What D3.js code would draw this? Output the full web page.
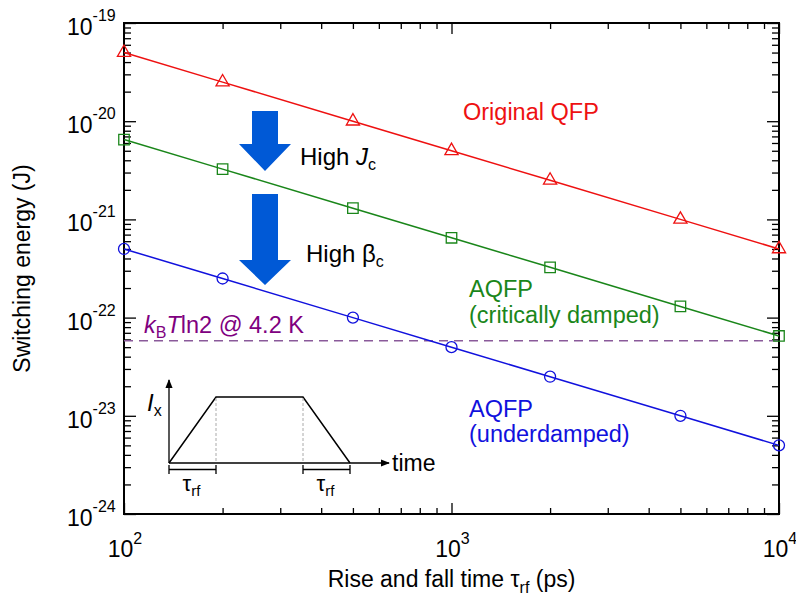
<!DOCTYPE html>
<html>
<head>
<meta charset="utf-8">
<script src="https://cdn.jsdelivr.net/npm/d3@7"></script>
<style>
  body { margin: 0; background: #fff; }
  text { font-family: "Liberation Sans", Arial, sans-serif; }
</style>
</head>
<body>
<svg id="svg"></svg>
<script>
const times = [100, 200, 500, 1000, 2000, 5000, 10000]
const originalQFP = [5e-20, 2.5e-20, 1e-20, 5e-21, 2.5e-21, 1e-21, 5e-22]
const aqfpCritical = [6.5e-21, 3.25e-21, 1.3e-21, 6.5e-22, 3.25e-22, 1.3e-22, 6.5e-23]
const aqfpUnder = [5e-22, 2.5e-22, 1e-22, 5e-23, 2.5e-23, 1e-23, 5e-24]
const thermalLimit = 5.8e-23
const xTickExp = [2, 3, 4]
const yTickExp = [-19, -20, -21, -22, -23, -24]

const width = 796, height = 598
const padding = { top: 23, right: 17, bottom: 84, left: 124 }

const svg = d3.select('#svg')
  .attr('width', width)
  .attr('height', height)

const x = d3.scaleLog().domain([100, 10000]).range([padding.left, width - padding.right])
const y = d3.scaleLog().domain([1e-24, 1e-19]).range([height - padding.bottom, padding.top])

// minor tick values
const xMinor = []
for (let e = 2; e < 4; e++) for (let m = 2; m < 10; m++) xMinor.push(m * Math.pow(10, e))
const yMinor = []
for (let e = -24; e < -19; e++) for (let m = 2; m < 10; m++) yMinor.push(m * Math.pow(10, e))
const xMajor = xTickExp.map(e => Math.pow(10, e))
const yMajor = yTickExp.map(e => Math.pow(10, e))

function addAxis(fn, scale, vals, size, tx, ty) {
  const g = svg.append('g')
    .attr('transform', 'translate(' + tx + ',' + ty + ')')
    .call(fn(scale).tickValues(vals).tickSize(-size).tickFormat(''))
  g.select('.domain').remove()
  g.selectAll('line').attr('stroke', '#000').attr('stroke-width', 1.3)
}
const x0 = padding.left, x1 = width - padding.right
const y0 = height - padding.bottom, y1 = padding.top
addAxis(d3.axisBottom, x, xMajor, 11, 0, y0)
addAxis(d3.axisBottom, x, xMinor, 6, 0, y0)
addAxis(d3.axisTop, x, xMajor, 11, 0, y1)
addAxis(d3.axisTop, x, xMinor, 6, 0, y1)
addAxis(d3.axisLeft, y, yMajor, 12, x0, 0)
addAxis(d3.axisLeft, y, yMinor, 7, x0, 0)
addAxis(d3.axisRight, y, yMajor, 12, x1, 0)
addAxis(d3.axisRight, y, yMinor, 7, x1, 0)

svg.append('rect')
  .attr('x', x0).attr('y', y1)
  .attr('width', x1 - x0).attr('height', y0 - y1)
  .attr('fill', 'none').attr('stroke', '#000').attr('stroke-width', 2)

// tick labels
xTickExp.forEach(e => {
  const t = svg.append('text')
    .attr('x', x(Math.pow(10, e)) + 1).attr('y', 557)
    .attr('text-anchor', 'middle')
    .style('font-size', '23px')
  t.append('tspan').text('10')
  t.append('tspan').attr('dy', -13).style('font-size', '16px').text(e)
})
yTickExp.forEach(e => {
  const t = svg.append('text')
    .attr('x', 67).attr('y', y(Math.pow(10, e)) + 12)
    .style('font-size', '23px')
  t.append('tspan').text('10')
  t.append('tspan').attr('dy', -14).style('font-size', '16px').text(e)
})

// axis labels
const xl = svg.append('text')
  .attr('x', (x0 + x1) / 2).attr('y', 587)
  .attr('text-anchor', 'middle')
  .style('font-size', '23px')
xl.append('tspan').text('Rise and fall time \u03c4')
xl.append('tspan').attr('dy', 6).style('font-size', '16px').text('rf')
xl.append('tspan').attr('dy', -6).text(' (ps)')

svg.append('text')
  .attr('transform', 'translate(30,' + ((y0 + y1) / 2) + ') rotate(-90)')
  .attr('text-anchor', 'middle')
  .style('font-size', '23px')
  .text('Switching energy (J)')

// thermal limit
svg.append('line')
  .attr('x1', x0).attr('x2', x1)
  .attr('y1', y(thermalLimit)).attr('y2', y(thermalLimit))
  .attr('stroke', '#8a5a9a').attr('stroke-width', 1.5)
  .attr('stroke-dasharray', '9,6')

const series = [
  { vals: originalQFP, color: '#ee1111', shape: d3.symbolTriangle },
  { vals: aqfpCritical, color: '#1a861a', shape: d3.symbolSquare },
  { vals: aqfpUnder, color: '#1111dd', shape: 'circle' }
]

const line = d3.line()
  .x(d => x(d.t))
  .y(d => y(d.e))

series.forEach(s => {
  const pts = times.map((t, i) => ({ t: t, e: s.vals[i] }))
  svg.append('path')
    .datum(pts)
    .attr('d', line)
    .attr('fill', 'none')
    .attr('stroke', s.color)
    .attr('stroke-width', 1.5)
  if (s.shape === 'circle') {
    svg.append('g').selectAll('circle')
      .data(pts).enter().append('circle')
      .attr('cx', d => x(d.t)).attr('cy', d => y(d.e))
      .attr('r', 5.5)
      .attr('fill', 'none').attr('stroke', s.color).attr('stroke-width', 1.3)
  } else {
    const size = s.shape === d3.symbolSquare ? 110 : 75
    svg.append('g').selectAll('path')
      .data(pts).enter().append('path')
      .attr('transform', d => 'translate(' + x(d.t) + ',' + y(d.e) + ')')
      .attr('d', d3.symbol().type(s.shape).size(size))
      .attr('fill', 'none').attr('stroke', s.color).attr('stroke-width', 1.3)
  }
})

// annotations
function label(txt, tx, ty, color) {
  svg.append('text').attr('x', tx).attr('y', ty)
    .attr('fill', color).style('font-size', '23.5px').text(txt)
}
label('Original QFP', 463, 120, '#ee1111')
label('AQFP', 469, 297, '#1a861a')
label('(critically damped)', 469, 323, '#1a861a')
label('AQFP', 469, 417, '#1111dd')
label('(underdamped)', 469, 442, '#1111dd')

const kb = svg.append('text').attr('x', 144).attr('y', 333)
  .attr('fill', '#800080').style('font-size', '23.5px')
kb.append('tspan').style('font-style', 'italic').text('k')
kb.append('tspan').attr('dy', 5).style('font-size', '16px').text('B')
kb.append('tspan').attr('dy', -5).style('font-style', 'italic').text('T')
kb.append('tspan').text('ln2 @ 4.2 K')

// arrows
const arrowColor = '#0059d6'
function arrow(ax, top, shaftEnd, tip) {
  svg.append('path')
    .attr('d', 'M' + (ax - 13) + ',' + top + 'H' + (ax + 13) + 'V' + shaftEnd +
      'H' + (ax + 26) + 'L' + ax + ',' + tip + 'L' + (ax - 26) + ',' + shaftEnd +
      'H' + (ax - 13) + 'Z')
    .attr('fill', arrowColor)
}
arrow(265, 111, 144, 171)
arrow(265, 194, 260, 285)

const hj = svg.append('text').attr('x', 300).attr('y', 165).style('font-size', '24px')
hj.append('tspan').text('High ')
hj.append('tspan').style('font-style', 'italic').text('J')
hj.append('tspan').attr('dy', 5).style('font-size', '16px').text('c')

const hb = svg.append('text').attr('x', 306).attr('y', 262).style('font-size', '24px')
hb.append('tspan').text('High \u03b2')
hb.append('tspan').attr('dy', 5).style('font-size', '16px').text('c')

// inset schematic of the excitation current
const inset = svg.append('g')
const ix0 = 169, iy0 = 463
svg.append('defs').append('marker')
  .attr('id', 'ah').attr('viewBox', '0 0 10 10')
  .attr('refX', 9).attr('refY', 5)
  .attr('markerWidth', 7).attr('markerHeight', 7)
  .attr('orient', 'auto')
  .append('path').attr('d', 'M0,1L10,5L0,9Z').attr('fill', '#000')
inset.append('line').attr('x1', ix0).attr('y1', iy0).attr('x2', ix0).attr('y2', 380)
  .attr('stroke', '#000').attr('stroke-width', 1.3).attr('marker-end', 'url(#ah)')
inset.append('line').attr('x1', ix0).attr('y1', iy0).attr('x2', 389).attr('y2', iy0)
  .attr('stroke', '#000').attr('stroke-width', 1.3).attr('marker-end', 'url(#ah)')
inset.append('path').attr('d', 'M169,463L216,397H303L350,463')
  .attr('fill', 'none').attr('stroke', '#000').attr('stroke-width', 1.5)
;[216, 303].forEach(v => {
  inset.append('line').attr('x1', v).attr('x2', v).attr('y1', 398).attr('y2', 463)
    .attr('stroke', '#aaa').attr('stroke-width', 1).attr('stroke-dasharray', '3,2')
})
;[[169, 216], [303, 350]].forEach(p => {
  inset.append('path')
    .attr('d', 'M' + p[0] + ',465V474M' + p[0] + ',469.5H' + p[1] + 'M' + p[1] + ',465V474')
    .attr('fill', 'none').attr('stroke', '#000').attr('stroke-width', 1.3)
  const t = inset.append('text').attr('x', (p[0] + p[1]) / 2 - 10).attr('y', 491)
    .style('font-size', '22px')
  t.append('tspan').text('\u03c4')
  t.append('tspan').attr('dy', 5).style('font-size', '15px').text('rf')
})
const ixl = inset.append('text').attr('x', 147).attr('y', 411).style('font-size', '24px')
ixl.append('tspan').style('font-style', 'italic').text('I')
ixl.append('tspan').attr('dy', 5).style('font-size', '16px').text('x')
inset.append('text').attr('x', 392).attr('y', 471).style('font-size', '23px').text('time')
</script>
</body>
</html>
